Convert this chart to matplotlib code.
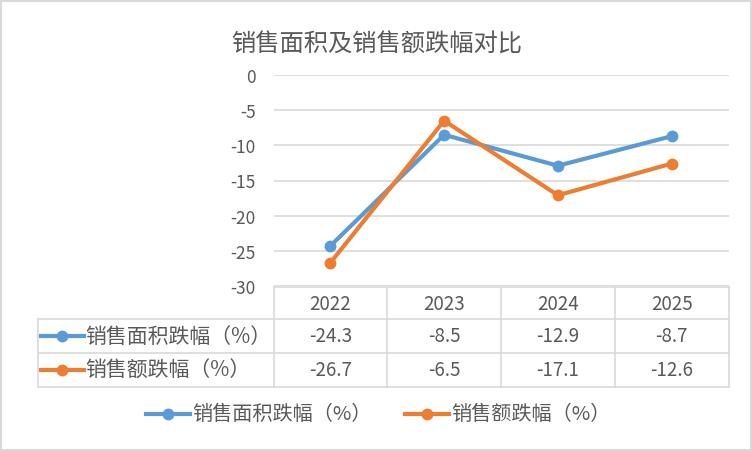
import matplotlib
matplotlib.use("Agg")
import matplotlib.pyplot as plt
from matplotlib.lines import Line2D
from matplotlib.patches import Rectangle

plt.rcParams['font.family'] = ['Noto Sans CJK SC', 'DejaVu Sans']

years = ['2022', '2023', '2024', '2025']
area_drop = [-24.3, -8.5, -12.9, -8.7]
sales_drop = [-26.7, -6.5, -17.1, -12.6]
series_names = ['销售面积跌幅（%）', '销售额跌幅（%）']
title = '销售面积及销售额跌幅对比'
yticks = [0, -5, -10, -15, -20, -25, -30]

blue = '#5B9BD5'
orange = '#ED7D31'
grid_c = '#D9D9D9'
text_c = '#595959'

W, H = 752, 452
fig = plt.figure(figsize=(W / 100, H / 100), dpi=100)

# chart border
fig.patches.append(Rectangle((1.5 / W, 1.5 / H), 1 - 3 / W, 1 - 3 / H, transform=fig.transFigure,
                             fill=False, edgecolor='#D9D9D9', linewidth=1.5))

def fx(px):
    return px / W

def fy(py):
    return 1 - py / H

x0, x1 = 273.5, 728.5
y_top, y_bot = 76, 287
ax = fig.add_axes([fx(x0), fy(y_bot), fx(x1) - fx(x0), fy(y_top) - fy(y_bot)])

xs = range(len(years))
ax.plot(xs, area_drop, color=blue, lw=3, marker='o', ms=7.5, zorder=3)
ax.plot(xs, sales_drop, color=orange, lw=3, marker='o', ms=7.5, zorder=3)
ax.set_xlim(-0.5, len(years) - 0.5)
ax.set_ylim(-30, 0)
ax.set_yticks(yticks)
ax.set_yticklabels([str(v) for v in yticks], color=text_c, fontsize=12.5, fontweight='light')
ax.yaxis.grid(True, color=grid_c, lw=1.2)
ax.set_axisbelow(True)
ax.set_xticks([])
ax.tick_params(axis='y', length=0, pad=13)
for s in ax.spines.values():
    s.set_visible(False)

fig.text(fx(377), fy(45), title, ha='center', va='center', fontsize=17.5, color=text_c, fontweight='light')

# data table
col_w = (x1 - x0) / len(years)
rows_y = [288, 320, 354, 388]
lab_x = 38
lines = []
for k in range(len(years) + 1):
    xx = x0 + k * col_w
    lines.append(([xx, xx], [rows_y[0], rows_y[-1]]))
lines.append(([x0, x1], [rows_y[0], rows_y[0]]))
for yy in rows_y[1:]:
    lines.append(([lab_x, x1], [yy, yy]))
lines.append(([lab_x, lab_x], [rows_y[1], rows_y[-1]]))
for lx, ly in lines:
    fig.add_artist(Line2D([fx(v) for v in lx], [fy(v) for v in ly], color=grid_c, lw=1.2))

for i, yr in enumerate(years):
    cx = x0 + (i + 0.5) * col_w
    fig.text(fx(cx), fy((rows_y[0] + rows_y[1]) / 2), yr, ha='center', va='center', fontsize=13.5,
             color=text_c, fontweight='light')

for r, (vals, col, name) in enumerate([(area_drop, blue, series_names[0]), (sales_drop, orange, series_names[1])]):
    cy = (rows_y[r + 1] + rows_y[r + 2]) / 2
    fig.add_artist(Line2D([fx(41), fx(84)], [fy(cy), fy(cy)], color=col, lw=3))
    fig.add_artist(Line2D([fx(62)], [fy(cy)], color=col, marker='o', ms=7.5))
    fig.text(fx(85), fy(cy), name, ha='left', va='center', fontsize=15, color=text_c, fontweight='light')
    for i, v in enumerate(vals):
        cx = x0 + (i + 0.5) * col_w
        fig.text(fx(cx), fy(cy), f'{v}', ha='center', va='center', fontsize=13.5, color=text_c,
                 fontweight='light')

# legend
leg_y = 415
for name, col, sx in [(series_names[0], blue, 146), (series_names[1], orange, 405)]:
    fig.add_artist(Line2D([fx(sx), fx(sx + 44)], [fy(leg_y), fy(leg_y)], color=col, lw=3))
    fig.add_artist(Line2D([fx(sx + 22)], [fy(leg_y)], color=col, marker='o', ms=7.5))
    fig.text(fx(sx + 46), fy(leg_y), name, ha='left', va='center', fontsize=14.5, color=text_c,
             fontweight='light')

fig.savefig('out.png', dpi=100)
